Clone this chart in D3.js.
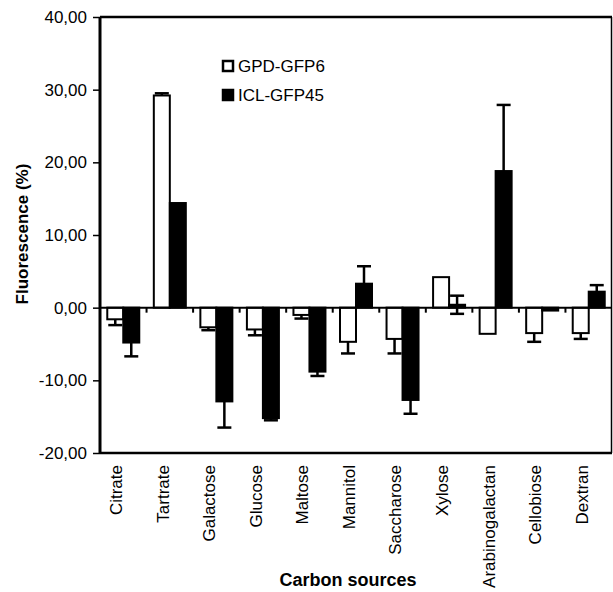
<!DOCTYPE html>
<html>
<head>
<meta charset="utf-8">
<script src="https://cdn.jsdelivr.net/npm/d3@7"></script>
<style>
  body { margin: 0; background: #fff; }
  text { font-family: Arial, "Liberation Sans", sans-serif; fill: #000; }
</style>
</head>
<body>
<div id="chart"></div>
<script>
'use strict';

// data
var categories = ['Citrate', 'Tartrate', 'Galactose', 'Glucose', 'Maltose', 'Mannitol',
  'Saccharose', 'Xylose', 'Arabinogalactan', 'Cellobiose', 'Dextran'];
var seriesNames = ['GPD-GFP6', 'ICL-GFP45'];
var gpd = [-1.6, 29.2, -2.7, -3.0, -1.0, -4.7, -4.3, 4.2, -3.6, -3.5, -3.5];
var gpdErr = [0.8, 0.3, 0.4, 0.8, 0.5, 1.6, 2.0, 0, 0, 1.2, 0.8];
var icl = [-4.8, 14.4, -12.9, -15.2, -8.8, 3.3, -12.7, 0.4, 18.8, -0.4, 2.2];
var iclErr = [1.9, 0, 3.6, 0.3, 0.6, 2.4, 1.9, 1.25, 9.1, 0, 0.9];
var yTicks = [-20, -10, 0, 10, 20, 30, 40];

var width = 613, height = 592;
var plotLeft = 100, plotRight = 612, plotTop = 17, plotBottom = 453;

var svg = d3.select('#chart').append('svg')
  .attr('width', width)
  .attr('height', height);

var x = d3.scaleBand().domain(categories).range([plotLeft, plotRight]);
var xSub = d3.scaleBand().domain(seriesNames).range([x.bandwidth() / 2 - 16, x.bandwidth() / 2 + 16]);
var y = d3.scaleLinear().domain([-20, 40]).range([plotBottom, plotTop]);

// comma decimals, plain hyphen for minus
var fmt = d3.formatLocale({decimal: ',', thousands: '.', grouping: [3], currency: ['', ''], minus: '-'}).format('.2f');

// y axis
var yAxis = svg.append('g')
  .attr('transform', 'translate(' + plotLeft + ',0)')
  .call(d3.axisLeft(y).tickValues(yTicks).tickSize(7).tickPadding(6).tickFormat(fmt));
yAxis.select('.domain').remove();
yAxis.selectAll('line').attr('stroke', '#000').attr('stroke-width', 1.5);
yAxis.selectAll('text').style('font-size', '17px').attr('fill', '#000');

// bars
var flat = [];
categories.forEach(function(c, i) {
  flat.push({cat: c, s: seriesNames[0], v: gpd[i], e: gpdErr[i]});
  flat.push({cat: c, s: seriesNames[1], v: icl[i], e: iclErr[i]});
});

var groups = svg.selectAll('g.bar')
  .data(flat)
  .enter()
    .append('g')
    .attr('class', 'bar')
    .attr('transform', function(d) { return 'translate(' + (x(d.cat) + xSub(d.s)) + ',0)'; });

// error bars (drawn under the bars)
var cap = 7;
groups.filter(function(d) { return d.e > 0; }).each(function(d) {
  var g = d3.select(this);
  var cx = xSub.bandwidth() / 2;
  var ends;
  if (Math.abs(d.v) < d.e) ends = [d.v - d.e, d.v + d.e];
  else ends = [d.v + (d.v < 0 ? -d.e : d.e)];
  ends.forEach(function(e) {
    g.append('line')
      .attr('x1', cx).attr('x2', cx)
      .attr('y1', y(d.v)).attr('y2', y(e))
      .attr('stroke', '#000').attr('stroke-width', 2.5);
    g.append('line')
      .attr('x1', cx - cap).attr('x2', cx + cap)
      .attr('y1', y(e)).attr('y2', y(e))
      .attr('stroke', '#000').attr('stroke-width', 2.5);
  });
});

groups.append('rect')
  .attr('x', 0)
  .attr('width', xSub.bandwidth())
  .attr('y', function(d) { return y(Math.max(0, d.v)); })
  .attr('height', function(d) { return Math.abs(y(d.v) - y(0)); })
  .attr('fill', function(d) { return d.s === seriesNames[0] ? '#fff' : '#000'; })
  .attr('stroke', '#000')
  .attr('stroke-width', 2);

// zero line with small ticks at the category boundaries
svg.append('line')
  .attr('x1', plotLeft).attr('x2', plotRight)
  .attr('y1', y(0)).attr('y2', y(0))
  .attr('stroke', '#000').attr('stroke-width', 2);
svg.selectAll('line.zt')
  .data(categories.slice(1))
  .enter()
    .append('line')
    .attr('class', 'zt')
    .attr('x1', function(d) { return x(d); })
    .attr('x2', function(d) { return x(d); })
    .attr('y1', y(0)).attr('y2', y(0) + 5)
    .attr('stroke', '#000').attr('stroke-width', 2);

// frame
svg.append('line').attr('x1', plotLeft).attr('x2', plotRight).attr('y1', plotTop).attr('y2', plotTop)
  .attr('stroke', '#000').attr('stroke-width', 2.5);
svg.append('line').attr('x1', plotLeft).attr('x2', plotRight).attr('y1', plotBottom).attr('y2', plotBottom)
  .attr('stroke', '#000').attr('stroke-width', 2.5);
svg.append('line').attr('x1', plotLeft).attr('x2', plotLeft).attr('y1', plotTop).attr('y2', plotBottom)
  .attr('stroke', '#000').attr('stroke-width', 3);
svg.append('line').attr('x1', plotRight - 0.5).attr('x2', plotRight - 0.5).attr('y1', plotTop).attr('y2', plotBottom)
  .attr('stroke', '#000').attr('stroke-width', 1.5);

// category labels
svg.selectAll('text.cat')
  .data(categories)
  .enter()
    .append('text')
    .attr('class', 'cat')
    .attr('transform', function(d) {
      return 'translate(' + (x(d) + x.bandwidth() / 2 - 7) + ',465) rotate(-90)';
    })
    .attr('dy', '0.35em')
    .attr('text-anchor', 'end')
    .style('font-size', '17px')
    .text(function(d) { return d; });

// axis titles
svg.append('text')
  .attr('x', 348).attr('y', 586)
  .attr('text-anchor', 'middle')
  .style('font-size', '18px').style('font-weight', 'bold')
  .text('Carbon sources');
svg.append('text')
  .attr('transform', 'translate(22,234) rotate(-90)')
  .attr('dy', '0.35em')
  .attr('text-anchor', 'middle')
  .style('font-size', '17px').style('font-weight', 'bold')
  .text('Fluorescence (%)');

// legend
var legend = svg.selectAll('g.leg')
  .data(seriesNames)
  .enter()
    .append('g')
    .attr('class', 'leg')
    .attr('transform', function(d, i) { return 'translate(223,' + (61 + i * 29) + ')'; });
legend.append('rect')
  .attr('width', 10).attr('height', 10)
  .attr('fill', function(d, i) { return i === 0 ? '#fff' : '#000'; })
  .attr('stroke', '#000').attr('stroke-width', 2.5);
legend.append('text')
  .attr('x', 15).attr('y', 11)
  .style('font-size', '17px')
  .text(function(d) { return d; });
</script>
</body>
</html>
